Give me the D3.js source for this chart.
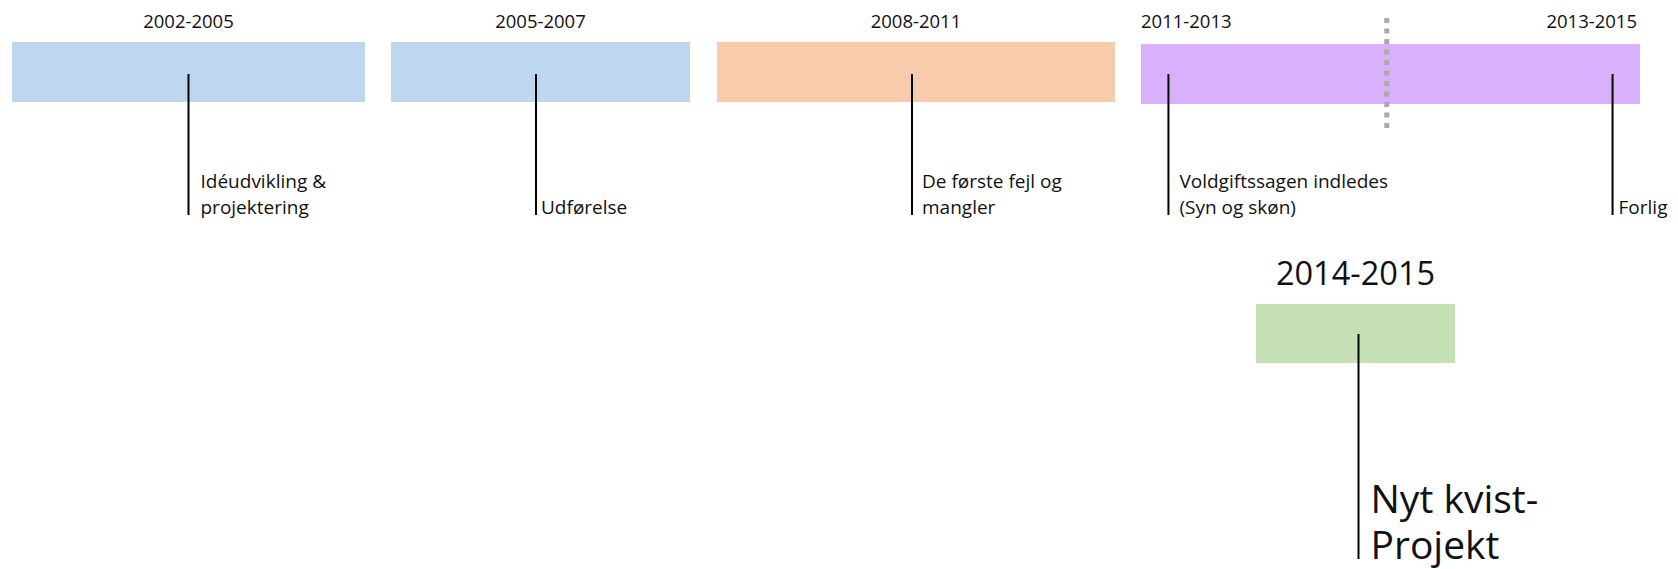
<!DOCTYPE html>
<html>
<head>
<meta charset="utf-8">
<script src="https://cdn.jsdelivr.net/npm/d3@7"></script>
<style>
  body { margin: 0; background: #fff; }
  svg text { font-family: "Open Sans", sans-serif; fill: #111; }
</style>
</head>
<body>
<div id="chart"></div>
<script>
// main timeline periods (one bar each)
var periodStart = [2002, 2005, 2008, 2011];
var periodEnd = [2005, 2007, 2011, 2015];

// year labels above the bars
var headLabels = ["2002-2005", "2005-2007", "2008-2011", "2011-2013", "2013-2015"];
var headStart = [2002, 2005, 2008, 2011, 2013];
var headEnd = [2005, 2007, 2011, 2013, 2015];

// events hanging under the bars
var eventYears = [2003.5, 2005.97, 2009.47, 2011.22, 2014.78];
var eventTexts = [
  ["Idéudvikling &", "projektering"],
  ["Udførelse"],
  ["De første fejl og", "mangler"],
  ["Voldgiftssagen indledes", "(Syn og skøn)"],
  ["Forlig"]
];
var dividerYears = [2012.97];

// the new project below
var projectLabel = "2014-2015";
var projectStart = 2014;
var projectEnd = 2015;
var projectYear = 2014.5;
var projectText = ["Nyt kvist-", "Projekt"];

var width = 1678, height = 569;

// layout: where each bar sits on the page
var barExtent = [[12, 365], [391, 690], [717, 1115], [1141, 1640]];
var barTop = [42, 42, 42, 44];
var barColors = ["#bdd7ee", "#bdd7ee", "#f8cbad", "#d8b0fb"];
var barH = 60;
var textGap = [12, 5, 10, 11, 6];

var svg = d3.select("#chart").append("svg")
    .attr("width", width)
    .attr("height", height);

// one linear scale per period, years -> pixels
var xs = periodStart.map(function(s, i) {
  return d3.scaleLinear().domain([s, periodEnd[i]]).range(barExtent[i]);
});
function periodOf(a, b) {
  for (var i = 0; i < periodStart.length; i++) {
    if (a >= periodStart[i] && b <= periodEnd[i]) return i;
  }
  return -1;
}

// bars
svg.selectAll(".bar")
  .data(periodStart)
  .enter().append("rect")
    .attr("class", "bar")
    .attr("x", function(d, i) { return xs[i](d); })
    .attr("y", function(d, i) { return barTop[i]; })
    .attr("width", function(d, i) { return xs[i](periodEnd[i]) - xs[i](d); })
    .attr("height", barH)
    .style("fill", function(d, i) { return barColors[i]; });

// divider inside the last period
svg.selectAll(".divider")
  .data(dividerYears)
  .enter().append("line")
    .attr("class", "divider")
    .attr("x1", function(d) { return xs[periodOf(d, d)](d); })
    .attr("x2", function(d) { return xs[periodOf(d, d)](d); })
    .attr("y1", 18)
    .attr("y2", 129)
    .style("stroke", "#aaaaaa")
    .style("stroke-width", 5)
    .style("stroke-dasharray", "5,5.5");

// head labels
svg.selectAll(".head")
  .data(headLabels)
  .enter().append("text")
    .attr("class", "head")
    .attr("y", 28)
    .style("font-size", "18.5px")
    .each(function(d, i) {
      var p = periodOf(headStart[i], headEnd[i]);
      var x = xs[p];
      var full = headStart[i] === periodStart[p] && headEnd[i] === periodEnd[p];
      var el = d3.select(this);
      if (full) {
        el.attr("x", x((headStart[i] + headEnd[i]) / 2)).attr("text-anchor", "middle");
      } else if (headStart[i] === periodStart[p]) {
        el.attr("x", x(headStart[i])).attr("text-anchor", "start");
      } else {
        el.attr("x", x(headEnd[i]) - 3).attr("text-anchor", "end");
      }
    })
    .text(function(d) { return d; });

// events: line + text
var ev = svg.selectAll(".event")
  .data(eventYears)
  .enter().append("g")
    .attr("class", "event")
    .attr("transform", function(d) {
      return "translate(" + xs[periodOf(d, d)](d) + ",0)";
    });

ev.append("line")
    .attr("y1", 74)
    .attr("y2", 215)
    .style("stroke", "#000")
    .style("stroke-width", 2);

ev.append("text")
    .style("font-size", "19px")
    .each(function(d, i) {
      var lines = eventTexts[i];
      var el = d3.select(this);
      lines.forEach(function(t, j) {
        el.append("tspan")
          .attr("x", textGap[i])
          .attr("y", 214 - (lines.length - 1 - j) * 25.7)
          .text(t);
      });
    });

// new project below
var xp = d3.scaleLinear().domain([projectStart, projectEnd]).range([1256, 1455]);

svg.append("rect")
    .attr("x", xp(projectStart))
    .attr("y", 304)
    .attr("width", xp(projectEnd) - xp(projectStart))
    .attr("height", 59)
    .style("fill", "#c5e0b4");

svg.append("text")
    .attr("x", xp((projectStart + projectEnd) / 2))
    .attr("y", 285)
    .attr("text-anchor", "middle")
    .style("font-size", "32.5px")
    .text(projectLabel);

svg.append("line")
    .attr("x1", xp(projectYear) + 3)
    .attr("x2", xp(projectYear) + 3)
    .attr("y1", 334)
    .attr("y2", 559)
    .style("stroke", "#000")
    .style("stroke-width", 2);

var pt = svg.append("text")
    .style("font-size", "39px");
projectText.forEach(function(t, j) {
  pt.append("tspan")
    .attr("x", xp(projectYear) + 15)
    .attr("y", 513 + j * 46)
    .text(t);
});
</script>
</body>
</html>
